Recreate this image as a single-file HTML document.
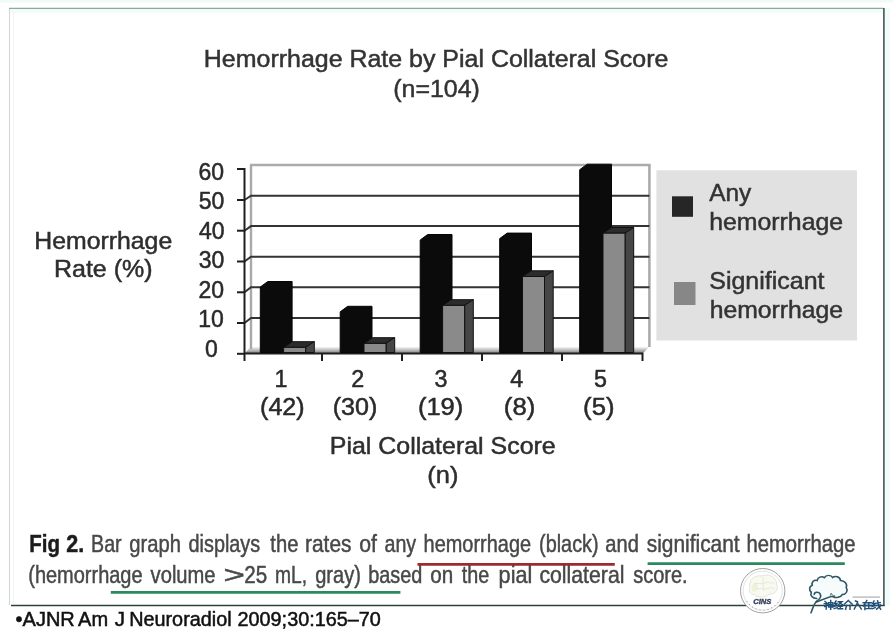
<!DOCTYPE html>
<html><head><meta charset="utf-8">
<style>
html,body{margin:0;padding:0;background:#fff;}
body{width:893px;height:632px;overflow:hidden;position:relative;font-family:"Liberation Sans",sans-serif;}
svg{position:absolute;left:0;top:0;display:block;}
text{font-family:"Liberation Sans",sans-serif;stroke-width:0.5px;}
#main{filter:blur(0.55px);}
</style></head>
<body>
<svg id="main" width="893" height="632" viewBox="0 0 893 632">
<defs>
<linearGradient id="floor" x1="0" y1="0" x2="0" y2="1">
<stop offset="0" stop-color="#ffffff"/>
<stop offset="1" stop-color="#7c7c7c"/>
</linearGradient>
</defs>
<!-- page background -->
<rect x="0" y="0" width="893" height="632" fill="#ffffff"/>
<rect x="0" y="0" width="893" height="2.5" fill="#f0fbf8"/>
<rect x="10" y="9" width="873" height="3.5" fill="#f0fcf9"/>
<rect x="885" y="8" width="5" height="598" fill="#f2fcfa"/>
<!-- frame -->
<line x1="9" y1="8.4" x2="883.5" y2="8.4" stroke="#92a6a0" stroke-width="1.4"/>
<line x1="9.5" y1="9" x2="9.5" y2="605" stroke="#d2d8d6" stroke-width="1.1"/>
<line x1="13.6" y1="12" x2="13.6" y2="604" stroke="#f2f2f2" stroke-width="1"/>
<line x1="883.9" y1="8" x2="883.9" y2="606" stroke="#344a47" stroke-width="1.5"/>
<line x1="11" y1="605.5" x2="884.5" y2="605.5" stroke="#2c423f" stroke-width="1.7"/>

<text x="203.85" y="66.8" textLength="464.54" lengthAdjust="spacingAndGlyphs" font-size="24.7" fill="#333" stroke="#333">Hemorrhage Rate by Pial Collateral Score</text>
<text x="393.26" y="96.8" textLength="86.58" lengthAdjust="spacingAndGlyphs" font-size="24.7" fill="#333" stroke="#333">(n=104)</text>
<!-- chart walls -->
<g id="chart">
<polygon points="244.5,353.5 251,346.5 649.4,346.5 643,353.5" fill="url(#floor)"/>
<line x1="251" y1="165" x2="251" y2="349" stroke="#a9a9a9" stroke-width="2.4"/>
<line x1="250" y1="165" x2="650.6" y2="165" stroke="#ababab" stroke-width="2.5"/>
<line x1="649.4" y1="165" x2="649.4" y2="347" stroke="#a9a9a9" stroke-width="2.5"/>
<!-- gridlines -->
<g stroke="#333" stroke-width="2" fill="none">
<polyline points="244.5,323 251,318 649.4,318"/>
<polyline points="244.5,292.3 251,287.3 649.4,287.3"/>
<polyline points="244.5,261.5 251,256.7 649.4,256.7"/>
<polyline points="244.5,230.7 251,226.1 649.4,226.1"/>
<polyline points="244.5,200 251,195.7 649.4,195.7"/>
</g>
<!-- axes -->
<g stroke="#1e1e1e" stroke-width="2">
<line x1="244.5" y1="168" x2="244.5" y2="361"/>
<line x1="237" y1="169" x2="245" y2="169"/>
<line x1="237" y1="200" x2="245" y2="200"/>
<line x1="237" y1="230.7" x2="245" y2="230.7"/>
<line x1="237" y1="261.5" x2="245" y2="261.5"/>
<line x1="237" y1="292.3" x2="245" y2="292.3"/>
<line x1="237" y1="323" x2="245" y2="323"/>
<line x1="237" y1="353.8" x2="245" y2="353.8"/>
<line x1="244" y1="353.5" x2="643" y2="353.5"/>
<line x1="322" y1="353" x2="322" y2="361"/>
<line x1="402" y1="353" x2="402" y2="361"/>
<line x1="482" y1="353" x2="482" y2="361"/>
<line x1="562" y1="353" x2="562" y2="361"/>
<line x1="642.5" y1="353" x2="642.5" y2="361"/>
</g>
<!-- bars -->
<polygon points="260.3,352.5 260.3,287 267.8,281.5 292.1,281.5 292.1,352.5" fill="#0b0b0b" stroke="#050505" stroke-width="1"/>
<polygon points="340.2,352.5 340.2,311.8 347.7,306.3 372,306.3 372,352.5" fill="#0b0b0b" stroke="#050505" stroke-width="1"/>
<polygon points="420.2,352.5 420.2,240 427.7,234.5 452,234.5 452,352.5" fill="#0b0b0b" stroke="#050505" stroke-width="1"/>
<polygon points="499.7,352.5 499.7,238.6 507.2,233.1 531.5,233.1 531.5,352.5" fill="#0b0b0b" stroke="#050505" stroke-width="1"/>
<polygon points="579.7,352.5 579.7,169.7 587.2,164.2 611.5,164.2 611.5,352.5" fill="#0b0b0b" stroke="#050505" stroke-width="1"/>
<polygon points="283.6,347.4 305.6,347.4 314.3,341.7 292.3,341.7" fill="#2c2c2c" stroke="#111" stroke-width="1"/>
<polygon points="305.6,347.4 314.3,341.7 314.3,352.5 305.6,352.5" fill="#464646" stroke="#111" stroke-width="1"/>
<rect x="283.6" y="347.4" width="22" height="5.1" fill="#8a8a8a" stroke="#111" stroke-width="1"/>
<polygon points="364,343.4 386,343.4 394.7,337.7 372.7,337.7" fill="#2c2c2c" stroke="#111" stroke-width="1"/>
<polygon points="386,343.4 394.7,337.7 394.7,352.5 386,352.5" fill="#464646" stroke="#111" stroke-width="1"/>
<rect x="364" y="343.4" width="22" height="9.1" fill="#8a8a8a" stroke="#111" stroke-width="1"/>
<polygon points="442.6,305.4 464.6,305.4 473.3,299.7 451.3,299.7" fill="#2c2c2c" stroke="#111" stroke-width="1"/>
<polygon points="464.6,305.4 473.3,299.7 473.3,352.5 464.6,352.5" fill="#464646" stroke="#111" stroke-width="1"/>
<rect x="442.6" y="305.4" width="22" height="47.1" fill="#8a8a8a" stroke="#111" stroke-width="1"/>
<polygon points="522.5,276.5 544.5,276.5 553.2,270.8 531.2,270.8" fill="#2c2c2c" stroke="#111" stroke-width="1"/>
<polygon points="544.5,276.5 553.2,270.8 553.2,352.5 544.5,352.5" fill="#464646" stroke="#111" stroke-width="1"/>
<rect x="522.5" y="276.5" width="22" height="76" fill="#8a8a8a" stroke="#111" stroke-width="1"/>
<polygon points="603,233.2 625,233.2 633.7,227.5 611.7,227.5" fill="#2c2c2c" stroke="#111" stroke-width="1"/>
<polygon points="625,233.2 633.7,227.5 633.7,352.5 625,352.5" fill="#464646" stroke="#111" stroke-width="1"/>
<rect x="603" y="233.2" width="22" height="119.3" fill="#8a8a8a" stroke="#111" stroke-width="1"/>
</g>

<text x="198.57" y="179.5" font-size="23" fill="#2a2a2a" stroke="#2a2a2a">60</text>
<text x="198.7" y="209" font-size="23" fill="#2a2a2a" stroke="#2a2a2a">50</text>
<text x="198.9" y="238.5" font-size="23" fill="#2a2a2a" stroke="#2a2a2a">40</text>
<text x="198.72" y="268" font-size="23" fill="#2a2a2a" stroke="#2a2a2a">30</text>
<text x="198.59" y="297.5" font-size="23" fill="#2a2a2a" stroke="#2a2a2a">20</text>
<text x="198.29" y="327" font-size="23" fill="#2a2a2a" stroke="#2a2a2a">10</text>
<text x="205.11" y="356.5" font-size="23" fill="#2a2a2a" stroke="#2a2a2a">0</text>
<text x="34.37" y="248.5" textLength="137.83" lengthAdjust="spacingAndGlyphs" font-size="24.2" fill="#2e2e2e" stroke="#2e2e2e">Hemorrhage</text>
<text x="53.95" y="277.1" textLength="98.61" lengthAdjust="spacingAndGlyphs" font-size="24.2" fill="#2e2e2e" stroke="#2e2e2e">Rate (%)</text>
<text x="274.41" y="386.8" font-size="23.3" fill="#2a2a2a" stroke="#2a2a2a">1</text>
<text x="351.17" y="386.8" font-size="23.3" fill="#2a2a2a" stroke="#2a2a2a">2</text>
<text x="434.49" y="386.8" font-size="23.3" fill="#2a2a2a" stroke="#2a2a2a">3</text>
<text x="510.19" y="386.8" font-size="23.3" fill="#2a2a2a" stroke="#2a2a2a">4</text>
<text x="593.9" y="386.8" font-size="23.3" fill="#2a2a2a" stroke="#2a2a2a">5</text>
<text x="260.05" y="415.2" textLength="44.51" lengthAdjust="spacingAndGlyphs" font-size="23.3" fill="#2a2a2a" stroke="#2a2a2a">(42)</text>
<text x="332.74" y="415.2" textLength="44.62" lengthAdjust="spacingAndGlyphs" font-size="23.3" fill="#2a2a2a" stroke="#2a2a2a">(30)</text>
<text x="417.92" y="415.2" textLength="45.37" lengthAdjust="spacingAndGlyphs" font-size="23.3" fill="#2a2a2a" stroke="#2a2a2a">(19)</text>
<text x="503.8" y="415.2" textLength="31.5" lengthAdjust="spacingAndGlyphs" font-size="23.3" fill="#2a2a2a" stroke="#2a2a2a">(8)</text>
<text x="583.11" y="415.2" textLength="31.39" lengthAdjust="spacingAndGlyphs" font-size="23.3" fill="#2a2a2a" stroke="#2a2a2a">(5)</text>
<text x="329.75" y="454.4" textLength="225.96" lengthAdjust="spacingAndGlyphs" font-size="24.5" fill="#2e2e2e" stroke="#2e2e2e">Pial Collateral Score</text>
<text x="427.32" y="483" textLength="31.06" lengthAdjust="spacingAndGlyphs" font-size="24.5" fill="#2e2e2e" stroke="#2e2e2e">(n)</text>
<!-- legend -->
<rect x="656.4" y="170.3" width="200.6" height="170.2" fill="#e1e1e1"/>
<rect x="672" y="196.3" width="21" height="20.5" fill="#262626"/>
<rect x="674" y="282" width="21.5" height="23" fill="#878787"/>
<text x="709.15" y="201" textLength="42.1" lengthAdjust="spacingAndGlyphs" font-size="24.4" fill="#333" stroke="#333">Any</text>
<text x="709.19" y="230.4" textLength="133.91" lengthAdjust="spacingAndGlyphs" font-size="24.4" fill="#333" stroke="#333">hemorrhage</text>
<text x="709.25" y="288.9" textLength="115.22" lengthAdjust="spacingAndGlyphs" font-size="24.4" fill="#333" stroke="#333">Significant</text>
<text x="709.69" y="318.3" textLength="133.4" lengthAdjust="spacingAndGlyphs" font-size="24.4" fill="#333" stroke="#333">hemorrhage</text>
<text x="29.23" y="551.9" textLength="30.74" lengthAdjust="spacingAndGlyphs" font-size="24.8" fill="#1c1c1c" stroke="#1c1c1c" font-weight="bold">Fig</text>
<text x="66.25" y="551.9" textLength="17.94" lengthAdjust="spacingAndGlyphs" font-size="24.8" fill="#1c1c1c" stroke="#1c1c1c" font-weight="bold">2.</text>
<text x="91.09" y="551.9" textLength="30.55" lengthAdjust="spacingAndGlyphs" font-size="24.8" fill="#484848" stroke="#484848">Bar</text>
<text x="129.25" y="551.9" textLength="51.67" lengthAdjust="spacingAndGlyphs" font-size="24.8" fill="#484848" stroke="#484848">graph</text>
<text x="188.57" y="551.9" textLength="71.64" lengthAdjust="spacingAndGlyphs" font-size="24.8" fill="#484848" stroke="#484848">displays</text>
<text x="270.3" y="551.9" textLength="28.1" lengthAdjust="spacingAndGlyphs" font-size="24.8" fill="#484848" stroke="#484848">the</text>
<text x="305.02" y="551.9" textLength="46.43" lengthAdjust="spacingAndGlyphs" font-size="24.8" fill="#484848" stroke="#484848">rates</text>
<text x="359.21" y="551.9" textLength="17.67" lengthAdjust="spacingAndGlyphs" font-size="24.8" fill="#484848" stroke="#484848">of</text>
<text x="384.48" y="551.9" textLength="31.67" lengthAdjust="spacingAndGlyphs" font-size="24.8" fill="#484848" stroke="#484848">any</text>
<text x="423.62" y="551.9" textLength="107.45" lengthAdjust="spacingAndGlyphs" font-size="24.8" fill="#484848" stroke="#484848">hemorrhage</text>
<text x="539.07" y="551.9" textLength="59.55" lengthAdjust="spacingAndGlyphs" font-size="24.8" fill="#484848" stroke="#484848">(black)</text>
<text x="605.36" y="551.9" textLength="33.54" lengthAdjust="spacingAndGlyphs" font-size="24.8" fill="#484848" stroke="#484848">and</text>
<text x="646.71" y="551.9" textLength="92.93" lengthAdjust="spacingAndGlyphs" font-size="24.8" fill="#484848" stroke="#484848">significant</text>
<text x="746.5" y="551.9" textLength="109.09" lengthAdjust="spacingAndGlyphs" font-size="24.8" fill="#484848" stroke="#484848">hemorrhage</text>
<text x="28.26" y="583.4" textLength="114.32" lengthAdjust="spacingAndGlyphs" font-size="24.8" fill="#484848" stroke="#484848">(hemorrhage</text>
<text x="150.62" y="583.4" textLength="64.96" lengthAdjust="spacingAndGlyphs" font-size="24.8" fill="#484848" stroke="#484848">volume</text>
<text x="223.41" y="583.4" textLength="21.39" lengthAdjust="spacingAndGlyphs" font-size="24.8" fill="#484848" stroke="#484848">&gt;</text>
<text x="244.27" y="583.4" textLength="22.9" lengthAdjust="spacingAndGlyphs" font-size="24.8" fill="#484848" stroke="#484848">25</text>
<text x="274.93" y="583.4" textLength="32.1" lengthAdjust="spacingAndGlyphs" font-size="24.8" fill="#484848" stroke="#484848">mL,</text>
<text x="315.16" y="583.4" textLength="45.69" lengthAdjust="spacingAndGlyphs" font-size="24.8" fill="#484848" stroke="#484848">gray)</text>
<text x="368.31" y="583.4" textLength="54.07" lengthAdjust="spacingAndGlyphs" font-size="24.8" fill="#484848" stroke="#484848">based</text>
<text x="430.33" y="583.4" textLength="22.91" lengthAdjust="spacingAndGlyphs" font-size="24.8" fill="#484848" stroke="#484848">on</text>
<text x="461.7" y="583.4" textLength="27.47" lengthAdjust="spacingAndGlyphs" font-size="24.8" fill="#484848" stroke="#484848">the</text>
<text x="498.62" y="583.4" textLength="33.65" lengthAdjust="spacingAndGlyphs" font-size="24.8" fill="#484848" stroke="#484848">pial</text>
<text x="539.41" y="583.4" textLength="85.02" lengthAdjust="spacingAndGlyphs" font-size="24.8" fill="#484848" stroke="#484848">collateral</text>
<text x="633.14" y="583.4" textLength="54.48" lengthAdjust="spacingAndGlyphs" font-size="24.8" fill="#484848" stroke="#484848">score.</text>
<line x1="417.5" y1="564.3" x2="614.8" y2="564.3" stroke="#9e2a2e" stroke-width="2.8"/>
<line x1="647.6" y1="563.6" x2="844.8" y2="563.6" stroke="#2a8a5e" stroke-width="2.8"/>
<line x1="110.8" y1="592.4" x2="400.4" y2="592.4" stroke="#2a8a5e" stroke-width="2.8"/>

<text x="15.6" y="625.5" textLength="59.15" lengthAdjust="spacingAndGlyphs" font-size="19.7" fill="#111" stroke="#111">•AJNR</text>
<text x="78.06" y="625.5" textLength="30.06" lengthAdjust="spacingAndGlyphs" font-size="19.7" fill="#111" stroke="#111">Am</text>
<text x="114.77" y="625.5" textLength="10.24" lengthAdjust="spacingAndGlyphs" font-size="19.7" fill="#111" stroke="#111">J</text>
<text x="129.17" y="625.5" textLength="102.46" lengthAdjust="spacingAndGlyphs" font-size="19.7" fill="#111" stroke="#111">Neuroradiol</text>
<text x="237.51" y="625.5" textLength="143.38" lengthAdjust="spacingAndGlyphs" font-size="19.7" fill="#111" stroke="#111">2009;30:165–70</text>
<!-- logos -->
<g id="logos">
<!-- CINS seal -->
<circle cx="762.7" cy="590.7" r="22.2" fill="#ffffff" stroke="#959595" stroke-width="0.9"/>
<circle cx="762.7" cy="590.7" r="19.6" fill="none" stroke="#cfcfcf" stroke-width="0.6"/>
<path d="M750,588 C748,580 755,574.5 762,576 C768,573 777,577 776.5,584 C779,589 775,595 769,594 C766,598 757,598 754.5,594.5 C750,594.5 748.5,591 750,588 Z" fill="#f8faf0" stroke="#dadfd2" stroke-width="0.8"/>
<path d="M752,590 C751,585 754,582 757,583 C759,586 757,591 754,592 Z" fill="#eef2d6" stroke="none"/>
<path d="M754,584 C758,582 761,585 765,583 C768,581 771,584 774,583 M756,589 C760,588 764,590 769,588 C771,587 773,589 775,588 M763,577 C764,581 762,586 764,591" fill="none" stroke="#dde1d6" stroke-width="0.7"/>
<text x="753.2" y="603.6" font-size="7.6" font-weight="bold" font-style="italic" fill="#33405c" stroke="#33405c" style="stroke-width:0.35px" textLength="18.2" lengthAdjust="spacingAndGlyphs">CINS</text>
<g fill="#9a9a9a">
<circle cx="747" cy="601.5" r="0.6"/><circle cx="749.5" cy="604.5" r="0.6"/><circle cx="752.5" cy="607" r="0.6"/><circle cx="756" cy="608.8" r="0.6"/><circle cx="760" cy="609.8" r="0.6"/><circle cx="764" cy="610" r="0.6"/><circle cx="768" cy="609.3" r="0.6"/><circle cx="771.5" cy="607.8" r="0.6"/><circle cx="775" cy="605.5" r="0.6"/><circle cx="778" cy="602.5" r="0.6"/>
</g>
<!-- tree logo -->
<path transform="translate(847.7,598.5) scale(0.962,0.87) translate(-847.7,-598.5)" d="M815.5,598.5 C811,598.5 808.5,595 809.8,591.2 C807.3,589 807.5,584.5 810.8,583.3 C809.8,579.5 812.8,576.8 816,577.8 C816.5,574 820.5,572.5 823.5,574.5 C825,571.2 830.5,571 832,574.3 C834.5,571.8 840,573.5 840.2,577.8 C844.5,578 847.8,582 846.2,586 C848.5,589.5 846,594 842,594 C840.5,597.2 835.5,598.3 832.5,596.5" fill="#f6fcfc" stroke="#2d5563" stroke-width="1.7" stroke-linecap="round"/>
<path d="M814.2,594.5 C814.5,591.8 818.6,591.5 820.2,594 C821.6,596.5 819.8,599.3 817.2,600.6 C815,602 813,607 811,612.8" fill="none" stroke="#2d5563" stroke-width="1.6" stroke-linecap="round"/>
<path d="M816.5,602.2 C822,599.5 828,597 834.5,596" fill="none" stroke="#2d5563" stroke-width="1.3" stroke-linecap="round"/>
<path d="M830.3,595.5 L831.2,593.3 L832.6,595.2" fill="none" stroke="#2d5563" stroke-width="0.9"/>
<rect x="852.5" y="596.3" width="27.5" height="1.6" fill="#c4c4c4"/>
<g fill="none" stroke="#20507a" stroke-width="1.45" stroke-linecap="square">
<!-- 神 -->
<path d="M825,601.5 L826.5,602.5 M824.3,603.6 L827.5,603.6 L824.8,606.5 M826.2,605 L826.2,609 M828.6,602.6 L832.8,602.6 L832.8,607 L828.6,607 Z M828.6,604.8 L832.8,604.8 M830.7,600.5 L830.7,609.3"/>
<!-- 经 -->
<path d="M836,601 L834.4,603.5 L836.8,603.5 L834.2,606.3 L837,605.5 M834.2,608.6 L837.2,607.6 M838.2,601.6 L842,601.6 L838.6,604.5 M839.5,602.8 L842.3,604.6 M838.4,606.2 L842.2,606.2 M840.3,606.2 L840.3,608.8 M838,608.8 L842.6,608.8"/>
<!-- 介 -->
<path d="M848.3,600.4 L844.2,604.3 M848.3,600.4 L852.3,604.3 M846.6,605.3 L845.6,609.3 M850,605.3 L850,609.3"/>
<!-- 入 -->
<path d="M855.5,601 L857.5,601.8 L857.3,603 L854.3,609 M857.3,603 L861.3,609"/>
<!-- 在 -->
<path d="M863.2,602.7 L871.2,602.7 M866.8,600.5 L863.5,606 M864.9,604.2 L864.9,609.4 M866.7,605.4 L870.8,605.4 M868.8,603.8 L868.8,608.6 M866.4,608.6 L871.2,608.6"/>
<!-- 线 -->
<path d="M874,601 L872.6,603.5 L874.8,603.5 L872.5,606.3 L875,605.5 M872.5,608.6 L875.2,607.6 M876,603.2 L880.2,602.6 M876,605.5 L880.5,604.9 M877.6,600.8 L878.6,606 L880.6,609.2 M880.2,606.3 L876.6,609.2"/>
</g>
</g>
</svg>
</body></html>
